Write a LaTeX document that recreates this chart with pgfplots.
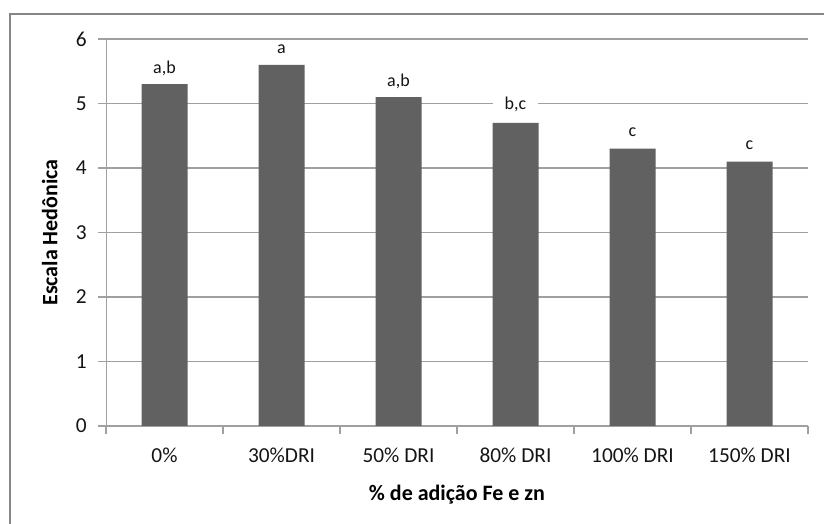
\documentclass[border=0pt]{standalone}
\usepackage{fontspec}
\setmainfont{Carlito}
\usepackage{pgfplots}
\pgfplotsset{compat=1.18}
\definecolor{barc}{RGB}{97,97,97}
\definecolor{gridc}{RGB}{160,160,160}
\definecolor{framec}{RGB}{134,134,134}
\definecolor{txtc}{RGB}{20,20,20}
\begin{document}
\begin{tikzpicture}
\useasboundingbox (0,0) rectangle (618pt,393pt);
\draw[framec, line width=1.5pt] (7.5pt,0) -- (7.5pt,382.5pt) -- (618pt,382.5pt);
\begin{axis}[
    at={(79.5pt,73.5pt)}, anchor=south west,
    scale only axis, width=526.5pt, height=290.25pt,
    xmin=-0.5, xmax=5.5, ymin=0, ymax=6,
    axis x line*=bottom, axis y line*=left,
    axis line style={gridc, -},
    ytick={0,...,6},
    /pgf/number format/assume math mode=true,
    xtick={-0.5,0.5,...,5.5},
    x tick label as interval,
    xticklabels={0\%,30\%DRI,50\% DRI,80\% DRI,100\% DRI,150\% DRI},
    tick align=outside, major tick length=6pt,
    tick style={gridc, line width=0.8pt},
    ymajorgrids, grid style={gridc, line width=0.8pt},
    ticklabel style={font=\fontsize{16}{18}\selectfont, text=txtc},
    xticklabel style={yshift=-7pt},
    yticklabel style={xshift=-5pt},
    xlabel={\bfseries \% de adição Fe e zn},
    ylabel={\bfseries Escala Hedônica},
    label style={font=\fontsize{16.5}{18}\selectfont, text=black},
    xlabel style={at={(axis description cs:0.5,-0.178)}, anchor=center},
    ylabel style={at={(axis description cs:-0.08,0.5)}, anchor=center},
    ybar, bar width=34.5pt,
    nodes near coords,
    point meta=explicit symbolic,
    every node near coord/.append style={font=\fontsize{13.5}{15}\selectfont, text=txtc,
        anchor=center, yshift=12pt, fill=white, inner xsep=9pt, inner ysep=1pt},
]
\addplot[fill=barc, draw=none] table[meta=lab] {
x y lab
0 5.3 {a,b}
1 5.6 a
2 5.1 {a,b}
3 4.7 {\raisebox{5pt}{b,c}}
4 4.3 c
5 4.1 c
};
\end{axis}
\end{tikzpicture}
\end{document}
